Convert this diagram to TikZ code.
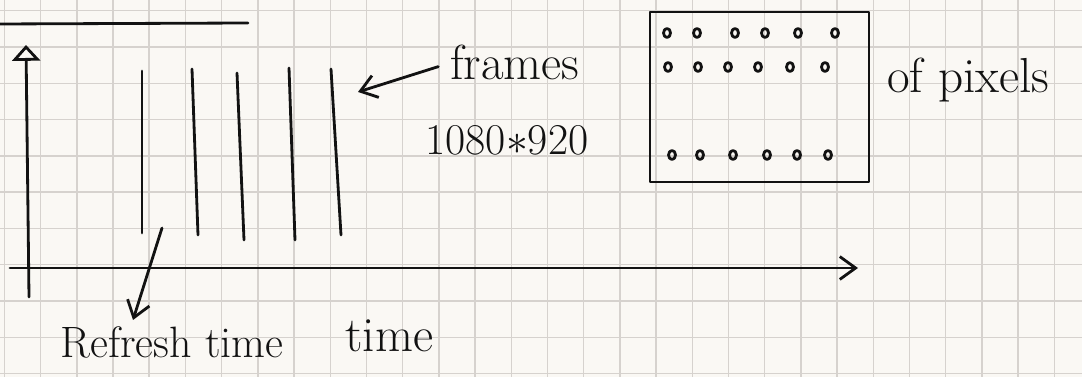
\documentclass[tikz,border=0pt]{standalone}
\usetikzlibrary{arrows.meta, positioning}
\definecolor{paper}{RGB}{250,248,244}
\definecolor{gridline}{RGB}{214,210,206}
\definecolor{ink}{RGB}{18,18,18}

\begin{document}
\begin{tikzpicture}[x=0.02cm, y=-0.02cm,
		pen/.style={ink, line width=1.6pt, line cap=round, line join=round},
		arr/.style={pen, -{Straight Barb[length=9pt, width=13pt]}},
		lbl/.style={inner sep=0pt, text=ink, font=\fontsize{28}{32}\selectfont},
		smalllbl/.style={lbl, font=\fontsize{25}{29}\selectfont}]
		% paper and grid
		\fill[paper] (0,0) rectangle (1082,377);
		\useasboundingbox (0,0) rectangle (1082,377);
		\foreach \gx in {0,...,29}
			\draw[gridline, line width=0.8pt] ({4.4+36.2*\gx},0) -- ({4.4+36.2*\gx},377);
		\foreach \gy in {0,...,10}
			\draw[gridline, line width=0.8pt] (0,{10.7+36.3*\gy}) -- (1082,{10.7+36.3*\gy});
		% title rule
		\coordinate (ul) at (0,24);
		\coordinate (ur) at (248,23);
		\draw[pen] (ul) -- (ur);
		% axes
		\coordinate (ybot) at (29,297);
		\coordinate (ytop) at (26,45);
		\coordinate (xleft) at (10,268);
		\coordinate (xend) at (858,268);
		\draw[pen, -{Triangle[open, length=9pt, width=16pt]}] (ybot) -- (ytop);
		\draw[arr] (xleft) -- (xend);
		% frames
		\foreach \i/\xt/\yt/\xb/\yb in {1/142/71/142/233, 2/192/69/198/235,
				3/237/73/244/240, 4/289/68/295/240, 5/331/69/341/235} {
			\coordinate (f\i t) at (\xt,\yt);
			\coordinate (f\i b) at (\xb,\yb);
			\draw[pen] (f\i t) -- (f\i b);
		}
		\node[lbl, anchor=base west] (frames) at (450,80) {frames};
		\node[smalllbl, anchor=base west] (res) at (425,155) {1080$*$920};
		\coordinate (fhead) at (358,92);
		\draw[arr, shorten <=7pt] (frames.west) -- (fhead);
		% pixel grid
		\node[pen, draw, minimum width=4.38cm, minimum height=3.4cm] (pixbox) at (759.5,97) {};
		\foreach \px/\py in {667/33, 697/33, 735/33, 765/33, 798/33, 835/33,
				668/67, 698/67, 728/67, 758/67, 790/67, 825/67,
				672/155, 700/155, 733/155, 767/155, 797/155, 828/155}
			\draw[pen, line width=1.6pt] (\px,\py) ellipse [x radius=3.5, y radius=4.5];
		\node[lbl, anchor=base west] (ofpix) at (887,93) {of pixels};
		% labels under axis
		\node[smalllbl, anchor=base west] (refresh) at (60,358) {Refresh time};
		\node[lbl, anchor=base west] (time) at (345,352) {time};
		\coordinate (rtail) at (162,228);
		\coordinate (rhead) at (133,320);
		\draw[arr] (rtail) -- (rhead);
	\end{tikzpicture}
\end{document}
